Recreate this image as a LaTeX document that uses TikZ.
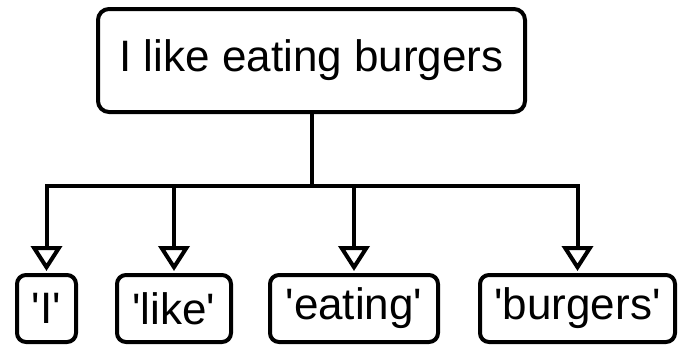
\documentclass[tikz,border=0pt]{standalone}
\usepackage{fontspec}
\setmainfont{Liberation Sans}
\usetikzlibrary{arrows.meta}
\newcommand{\sq}{\textquotesingle}
\begin{document}
\begin{tikzpicture}[x=1pt,y=1pt,
  box/.style={draw=black, line width=4pt, rounded corners=11pt, fill=white, inner sep=0pt, font=\fontsize{44}{48}\selectfont, anchor=center},
  conn/.style={draw=black, line width=4pt},
  arr/.style={conn, -{Triangle[open, length=25pt, width=31pt, fill=white]}}]
\useasboundingbox (0,0) rectangle (679,-348);
\node[box, minimum width=427pt, minimum height=103pt] (top) at (311.5,-60.5) {I like eating burgers};
\node[box, minimum width=59pt, minimum height=67pt, rounded corners=9pt] (w1) at (46.5,-308.5) {\sq I\sq};
\node[box, minimum width=114pt, minimum height=67pt, rounded corners=9pt] (w2) at (174,-308.5) {\sq like\sq};
\node[box, minimum width=168pt, minimum height=67pt, rounded corners=9pt] (w3) at (354,-308.5) {\sq eating\sq};
\node[box, minimum width=195pt, minimum height=67pt, rounded corners=9pt] (w4) at (577.5,-308.5) {\sq burgers\sq};
\coordinate (j) at (top.south |- 0,-186);
\coordinate (l) at (w1.north |- 0,-186);
\coordinate (r) at (w4.north |- 0,-186);
\draw[conn] (top.south) -- (j);
\draw[conn, line cap=rect] (l) -- (r);
\foreach \n in {w1,w2,w3,w4}{
  \draw[arr] (\n.north |- 0,-186) -- ([yshift=2pt]\n.north);
}
\end{tikzpicture}
\end{document}
